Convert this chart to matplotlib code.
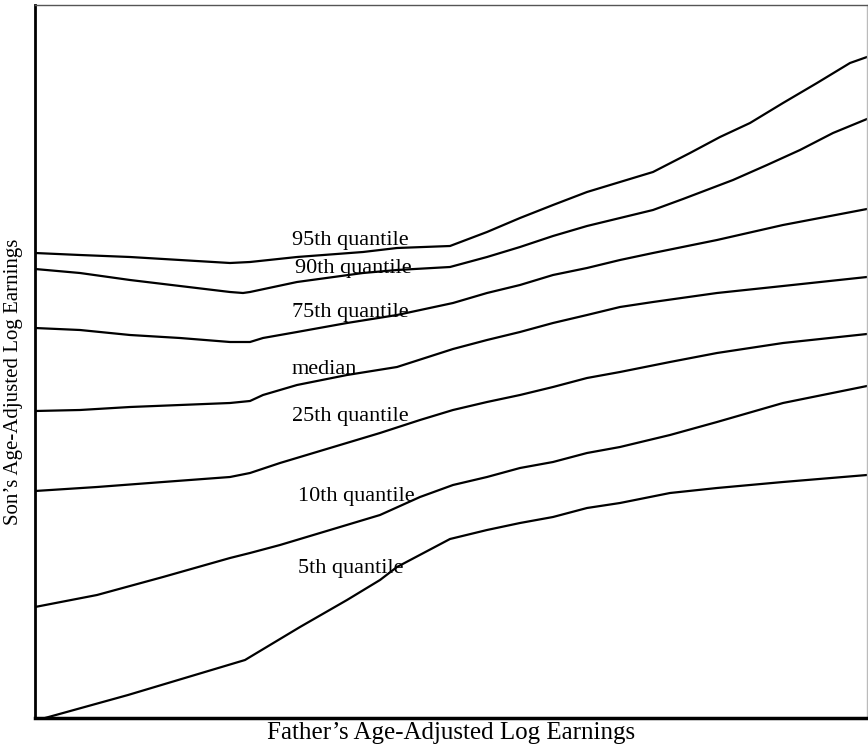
import matplotlib
matplotlib.use("Agg")
import matplotlib.pyplot as plt

plt.rcParams["font.family"] = ["Liberation Serif", "DejaVu Serif"]

# readings on an arbitrary scale (no ticks in the original)
x_q95 = [0, 45, 95, 145, 195, 215, 262, 328, 362, 415, 452, 485, 518, 552, 585, 618, 655, 685, 715, 748, 782, 815, 832]
y_q95 = [465, 463, 461, 458, 455, 456, 461, 466, 470, 472, 486, 500, 513, 526, 536, 546, 565, 581, 595, 615, 635, 655, 661]

x_q90 = [0, 45, 95, 145, 195, 208, 215, 262, 328, 362, 415, 452, 485, 518, 552, 585, 618, 648, 698, 732, 765, 798, 832]
y_q90 = [449, 445, 438, 432, 426, 425, 426, 436, 445, 448, 451, 461, 471, 482, 492, 500, 508, 519, 538, 553, 568, 585, 599]

x_q75 = [0, 45, 95, 145, 195, 215, 228, 262, 312, 362, 418, 452, 485, 518, 552, 585, 618, 682, 748, 832]
y_q75 = [390, 388, 383, 380, 376, 376, 380, 386, 395, 403, 415, 425, 433, 443, 450, 458, 465, 478, 493, 509]

x_q50 = [0, 45, 95, 145, 195, 215, 228, 262, 312, 362, 418, 452, 485, 518, 552, 585, 618, 682, 748, 832]
y_q50 = [307, 308, 311, 313, 315, 317, 323, 333, 343, 351, 369, 378, 386, 395, 403, 411, 416, 425, 432, 441]

x_q25 = [0, 62, 128, 195, 215, 245, 295, 345, 385, 418, 452, 485, 518, 552, 585, 635, 682, 748, 832]
y_q25 = [227, 231, 236, 241, 245, 255, 270, 285, 298, 308, 316, 323, 331, 340, 346, 356, 365, 375, 384]

x_q10 = [0, 62, 128, 195, 215, 245, 295, 345, 385, 418, 452, 485, 518, 552, 585, 635, 682, 748, 832]
y_q10 = [111, 123, 141, 160, 165, 173, 188, 203, 221, 233, 241, 250, 256, 265, 271, 283, 296, 315, 332]

x_q05 = [10, 93, 210, 265, 312, 345, 362, 415, 452, 485, 518, 552, 585, 635, 682, 748, 832]
y_q05 = [0, 23, 58, 91, 118, 138, 151, 179, 188, 195, 201, 210, 215, 225, 230, 236, 243]

series = [
    (x_q95, y_q95, "95th quantile", (257, 478)),
    (x_q90, y_q90, "90th quantile", (260, 449)),
    (x_q75, y_q75, "75th quantile", (257, 406)),
    (x_q50, y_q50, "median", (257, 348)),
    (x_q25, y_q25, "25th quantile", (257, 302)),
    (x_q10, y_q10, "10th quantile", (263, 221)),
    (x_q05, y_q05, "5th quantile", (263, 150)),
]

fig = plt.figure(figsize=(8.68, 7.45), dpi=100)
ax = fig.add_axes([35 / 868, 27 / 745, 832 / 868, 713 / 745])

for xs, ys, label, pos in series:
    ax.plot(xs, ys, color="black", linewidth=1.6)
    ax.text(pos[0], pos[1], label, fontsize=16, ha="left", va="center")

ax.set_xlim(0, 832)
ax.set_ylim(0, 713)
ax.set_xticks([])
ax.set_yticks([])

ax.spines["left"].set_linewidth(2)
ax.spines["bottom"].set_linewidth(2.5)
ax.spines["top"].set_color("#555555")
ax.spines["top"].set_linewidth(1)
ax.spines["right"].set_color("#bbbbbb")
ax.spines["right"].set_linewidth(1)

fig.text(451 / 868, 1 - 733 / 745, "Father\u2019s Age-Adjusted Log Earnings",
         fontsize=18, ha="center", va="center")
fig.text(14 / 868, 1 - 382 / 745, "Son\u2019s Age-Adjusted Log Earnings",
         fontsize=15, ha="center", va="center", rotation=90)

fig.savefig("out.png", dpi=100)
